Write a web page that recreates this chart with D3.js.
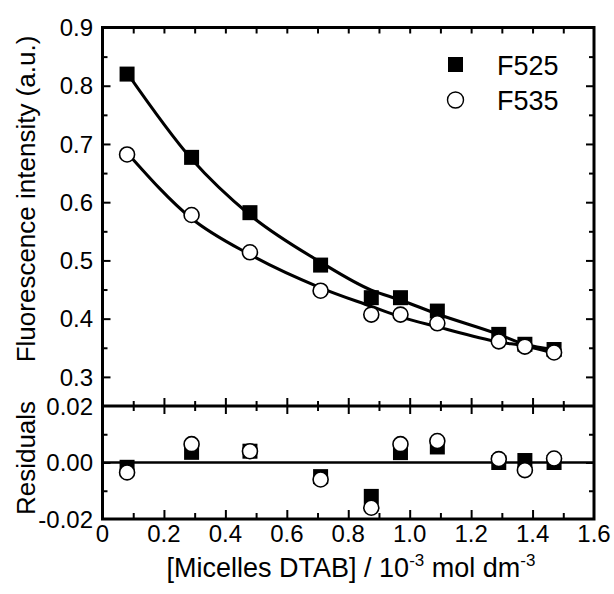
<!DOCTYPE html>
<html>
<head>
<meta charset="utf-8">
<script src="https://cdn.jsdelivr.net/npm/d3@7"></script>
<style>
  html, body { margin: 0; padding: 0; background: #fff; }
  svg text { font-family: "Liberation Sans", Arial, sans-serif; fill: #000; }
</style>
</head>
<body>
<svg id="chart" width="614" height="594"></svg>
<script>
// ---- data ----
const conc = [0.08, 0.29, 0.48, 0.71, 0.875, 0.97, 1.09, 1.29, 1.375, 1.47];
const f525 = [0.820, 0.677, 0.582, 0.492, 0.436, 0.436, 0.413, 0.373, 0.356, 0.347];
const f535 = [0.682, 0.578, 0.514, 0.448, 0.407, 0.407, 0.392, 0.361, 0.352, 0.342];
const fit525 = [0.822, 0.674, 0.578, 0.497, 0.449, 0.432, 0.408, 0.373, 0.356, 0.347];
const fit535 = [0.685, 0.572, 0.510, 0.453, 0.421, 0.403, 0.386, 0.360, 0.353, 0.341];
const res525 = [-0.0017, 0.0036, 0.0040, -0.0050, -0.0120, 0.0035, 0.0055, 0.0000, 0.0007, 0.0000];
const res535 = [-0.0035, 0.0065, 0.0040, -0.0060, -0.0160, 0.0065, 0.0076, 0.0012, -0.0027, 0.0014];

const xTickValues = [0, 0.2, 0.4, 0.6, 0.8, 1.0, 1.2, 1.4, 1.6];
const xTickLabels = ["0", "0.2", "0.4", "0.6", "0.8", "1.0", "1.2", "1.4", "1.6"];
const xMinorValues = [0.1, 0.3, 0.5, 0.7, 0.9, 1.1, 1.3, 1.5];
const yTopTickValues = [0.3, 0.4, 0.5, 0.6, 0.7, 0.8, 0.9];
const yTopTickLabels = ["0.3", "0.4", "0.5", "0.6", "0.7", "0.8", "0.9"];
const yTopMinorValues = [0.25, 0.35, 0.45, 0.55, 0.65, 0.75, 0.85];
const yResTickValues = [-0.02, 0.00, 0.02];
const yResTickLabels = ["-0.02", "0.00", "0.02"];
const yResMinorValues = [-0.01, 0.01];
const seriesNames = ["F525", "F535"];

// ---- layout ----
const L = 102.5, R = 594, T = 27.5, MID = 406, B = 519;
const x = d3.scaleLinear().domain([0, 1.6]).range([L, R]);
const yTop = d3.scaleLinear().domain([0.25, 0.9]).range([MID, T]);
const yRes = d3.scaleLinear().domain([-0.02, 0.02]).range([B, MID]);

const svg = d3.select("#chart");
const tickFont = 24;

function styleAxis(g, width) {
  g.select(".domain").remove();
  g.selectAll(".tick line").attr("stroke", "#000").attr("stroke-width", width || 2);
}

function addAxis(axisFn, scale, values, size, transform) {
  const ax = axisFn(scale).tickValues(values).tickSizeInner(size).tickSizeOuter(0).tickFormat("");
  const g = svg.append("g").attr("transform", transform).call(ax);
  styleAxis(g, 2);
  return g;
}

// Top panel ticks (inward)
addAxis(d3.axisLeft, yTop, yTopTickValues, -8, `translate(${L},0)`);
addAxis(d3.axisLeft, yTop, yTopMinorValues.filter(v => v > 0.25), -5, `translate(${L},0)`);
addAxis(d3.axisRight, yTop, yTopTickValues, -8, `translate(${R},0)`);
addAxis(d3.axisRight, yTop, yTopMinorValues.filter(v => v > 0.25), -5, `translate(${R},0)`);
addAxis(d3.axisTop, x, xTickValues.slice(1, -1).concat(xMinorValues), -6, `translate(0,${T})`);
// middle boundary: ticks on both sides
addAxis(d3.axisBottom, x, xTickValues.slice(1, -1), -8, `translate(0,${MID})`);
addAxis(d3.axisBottom, x, xMinorValues, -5, `translate(0,${MID})`);
addAxis(d3.axisTop, x, xTickValues.slice(1, -1), -8, `translate(0,${MID})`);
addAxis(d3.axisTop, x, xMinorValues, -5, `translate(0,${MID})`);
// residual panel
addAxis(d3.axisLeft, yRes, [0], -8, `translate(${L},0)`);
addAxis(d3.axisLeft, yRes, yResMinorValues, -5, `translate(${L},0)`);
addAxis(d3.axisRight, yRes, [0], -8, `translate(${R},0)`);
addAxis(d3.axisRight, yRes, yResMinorValues, -5, `translate(${R},0)`);
addAxis(d3.axisBottom, x, xTickValues.slice(1, -1), -9, `translate(0,${B})`);
addAxis(d3.axisBottom, x, xMinorValues, -6, `translate(0,${B})`);

// frames
svg.append("rect").attr("x", L).attr("y", T).attr("width", R - L).attr("height", B - T)
  .attr("fill", "none").attr("stroke", "#000").attr("stroke-width", 3);
svg.append("line").attr("x1", L).attr("x2", R).attr("y1", MID).attr("y2", MID)
  .attr("stroke", "#000").attr("stroke-width", 3);

// tick labels
svg.append("g").selectAll("text").data(yTopTickValues).join("text")
  .attr("x", 93).attr("y", d => yTop(d)).attr("dy", "0.36em")
  .attr("text-anchor", "end").attr("font-size", tickFont)
  .text((d, i) => yTopTickLabels[i]);
svg.append("g").selectAll("text").data(yResTickValues).join("text")
  .attr("x", 93).attr("y", d => yRes(d)).attr("dy", "0.36em")
  .attr("text-anchor", "end").attr("font-size", tickFont)
  .text((d, i) => yResTickLabels[i]);
svg.append("g").selectAll("text").data(xTickValues).join("text")
  .attr("x", d => x(d)).attr("y", 542)
  .attr("text-anchor", "middle").attr("font-size", tickFont)
  .text((d, i) => xTickLabels[i]);

// titles
svg.append("text").attr("transform", "translate(35,199) rotate(-90)")
  .attr("text-anchor", "middle").attr("font-size", 26)
  .text("Fluorescence intensity (a.u.)");
svg.append("text").attr("transform", "translate(35,458) rotate(-90)")
  .attr("text-anchor", "middle").attr("font-size", 26)
  .text("Residuals");
const xt = svg.append("text").attr("x", 351).attr("y", 577)
  .attr("text-anchor", "middle").attr("font-size", 27);
xt.append("tspan").text("[Micelles DTAB] / 10");
xt.append("tspan").attr("font-size", 17).attr("dy", -11).text("-3");
xt.append("tspan").attr("dy", 11).text(" mol dm");
xt.append("tspan").attr("font-size", 17).attr("dy", -11).text("-3");

// residual zero line
svg.append("line").attr("x1", L).attr("x2", R).attr("y1", yRes(0)).attr("y2", yRes(0))
  .attr("stroke", "#000").attr("stroke-width", 2.5);

// fit curves
const line = d3.line().curve(d3.curveMonotoneX);
[fit525, fit535].forEach(fit => {
  svg.append("path")
    .attr("d", line(conc.map((c, i) => [x(c), yTop(fit[i])])))
    .attr("fill", "none").attr("stroke", "#000").attr("stroke-width", 3);
});

const SQ = 15, CR = 7.5;
function squares(vals, yS) {
  svg.append("g").selectAll("rect").data(vals).join("rect")
    .attr("x", (d, i) => x(conc[i]) - SQ / 2).attr("y", d => yS(d) - SQ / 2)
    .attr("width", SQ).attr("height", SQ).attr("fill", "#000");
}
function circles(vals, yS) {
  svg.append("g").selectAll("circle").data(vals).join("circle")
    .attr("cx", (d, i) => x(conc[i])).attr("cy", d => yS(d)).attr("r", CR)
    .attr("fill", "#fff").attr("stroke", "#000").attr("stroke-width", 1.6);
}
squares(f525, yTop); circles(f535, yTop);
squares(res525, yRes); circles(res535, yRes);

// legend
svg.append("rect").attr("x", 448).attr("y", 57).attr("width", 15).attr("height", 15).attr("fill", "#000");
svg.append("circle").attr("cx", 455.5).attr("cy", 100).attr("r", 8).attr("fill", "#fff")
  .attr("stroke", "#000").attr("stroke-width", 1.4);
svg.append("text").attr("x", 497).attr("y", 75).attr("font-size", 27).text(seriesNames[0]);
svg.append("text").attr("x", 497).attr("y", 110).attr("font-size", 27).text(seriesNames[1]);
</script>
</body>
</html>
